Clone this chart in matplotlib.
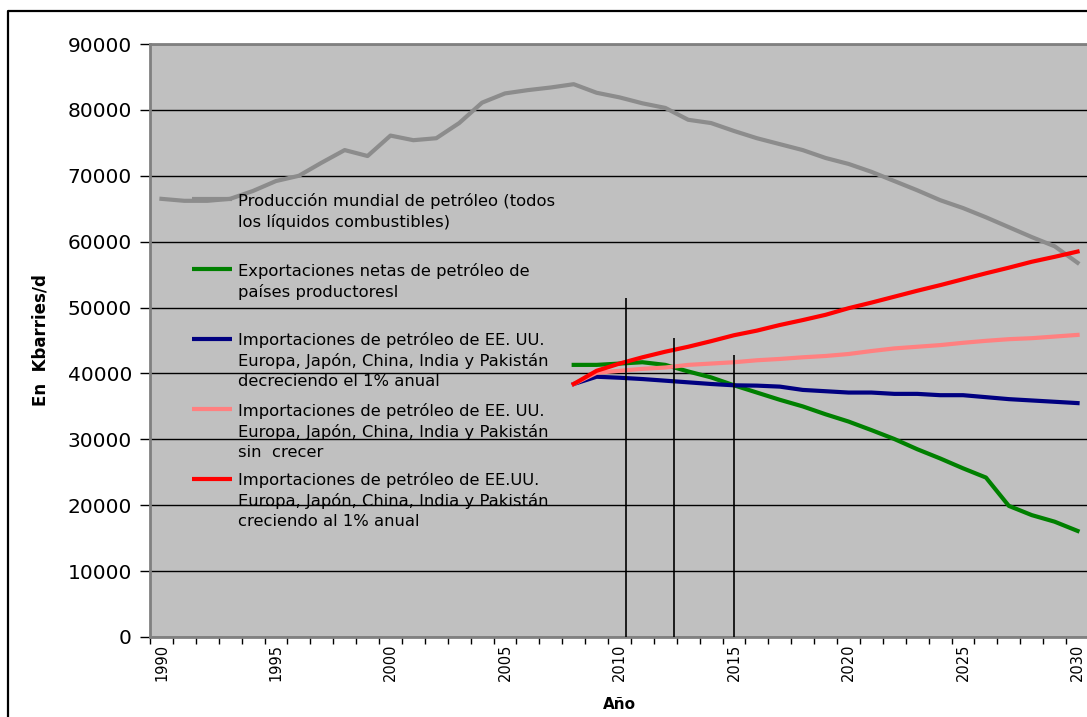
import matplotlib

matplotlib.use("Agg")
import matplotlib.pyplot as plt
import numpy as np
from matplotlib.lines import Line2D

plt.rcParams["font.family"] = ["DejaVu Sans"]

years = list(range(1990, 2031))

# Producción mundial (kbarriles/día), 1990-2030
production = [
    66500, 66200, 66200, 66500, 67700, 69200, 70000, 72000, 73900, 73000,
    76100, 75400, 75700, 78000, 81100, 82500, 83000, 83400, 83900, 82600,
    81900, 81000, 80300, 78500, 78000, 76800, 75700, 74800, 73900, 72700,
    71800, 70600, 69200, 67800, 66300, 65100, 63700, 62200, 60700, 59300,
    56800,
]

# Proyecciones 2008-2030
proj_start = 2008
exports = [
    41300, 41300, 41500, 41700, 41300, 40300, 39400, 38200, 37100, 36000,
    35000, 33800, 32700, 31400, 30050, 28500, 27100, 25600, 24200, 19900,
    18500, 17500, 16100,
]
imports_down = [
    38400, 39500, 39350, 39150, 38900, 38650, 38400, 38200, 38150, 38000,
    37500, 37300, 37100, 37100, 36900, 36900, 36700, 36700, 36400, 36100,
    35900, 35700, 35500,
]
imports_flat = [
    38400, 40100, 40400, 40700, 40900, 41300, 41500, 41700, 42000, 42200,
    42450, 42650, 42950, 43400, 43800, 44050, 44300, 44650, 44950, 45200,
    45350, 45600, 45850,
]
imports_up = [
    38400, 40400, 41500, 42450, 43300, 44050, 44900, 45800, 46500, 47350,
    48100, 48900, 49900, 50750, 51650, 52550, 53400, 54300, 55200, 56050,
    56950, 57700, 58500,
]

# marcas verticales (año, altura)
marker_years = [2010.3, 2012.4, 2015.0]
marker_tops = [51400, 45400, 42800]

labels = [
    "Producción mundial de petróleo (todos\nlos líquidos combustibles)",
    "Exportaciones netas de petróleo de\npaíses productoresl",
    "Importaciones de petróleo de EE. UU.\nEuropa, Japón, China, India y Pakistán\ndecreciendo el 1% anual",
    "Importaciones de petróleo de EE. UU.\nEuropa, Japón, China, India y Pakistán\nsin  crecer",
    "Importaciones de petróleo de EE.UU.\nEuropa, Japón, China, India y Pakistán\ncreciendo al 1% anual",
]
colors = ["#8c8c8c", "#008000", "#000080", "#ff8080", "#ff0000"]

fig = plt.figure(figsize=(10.87, 7.17), dpi=100)
ax = fig.add_axes([150 / 1087, 80 / 717, 939 / 1087, 593 / 717])
ax.set_facecolor("#c0c0c0")

x_all = np.arange(len(years))
x_proj = np.arange(len(exports)) + (proj_start - years[0])

lw = 3.0
ax.plot(x_all, production, color=colors[0], lw=lw, zorder=3)
ax.plot(x_proj, exports, color=colors[1], lw=lw, zorder=3)
ax.plot(x_proj, imports_down, color=colors[2], lw=lw, zorder=3)
ax.plot(x_proj, imports_flat, color=colors[3], lw=lw, zorder=3)
ax.plot(x_proj, imports_up, color=colors[4], lw=lw, zorder=3)

ax.vlines(np.array(marker_years) - years[0], 0, marker_tops, color="black", lw=1.2, zorder=4)

ax.set_xlim(-0.5, len(years) - 0.5)
ax.set_ylim(0, 90000)
ax.set_yticks(np.arange(0, 90001, 10000))
ax.yaxis.grid(True, color="black", lw=1.0)
ax.set_axisbelow(True)

ax.set_xticks(x_all[::5])
ax.set_xticklabels([str(y) for y in years[::5]], rotation=90, fontsize=10.5)
ax.set_xticks(np.arange(len(years) + 1) - 0.5, minor=True)
ax.tick_params(axis="x", which="major", length=0, pad=5)
ax.tick_params(axis="x", which="minor", length=5, width=1, color="black")
ax.tick_params(axis="y", length=7, width=1, color="black", labelsize=14.5, pad=6)

for s in ax.spines.values():
    s.set_color("#808080")
    s.set_linewidth(2)

ax.set_ylabel("En  Kbarries/d", fontsize=12, fontweight="bold", labelpad=13)
ax.set_xlabel("Año", fontsize=11, fontweight="bold", labelpad=11)

# leyenda dentro del área de trazado (posiciones en píxeles de la figura)
handle_y = [199, 269, 339, 409, 479]
first_baseline = [206, 276, 345, 416, 485]
line_step = 20.7
for lab, col, hy, by in zip(labels, colors, handle_y, first_baseline):
    fig.add_artist(Line2D([192 / 1087, 232 / 1087], [1 - hy / 717, 1 - hy / 717],
                          color=col, lw=lw, solid_capstyle="butt", zorder=5))
    for k, line in enumerate(lab.split("\n")):
        fig.text(238 / 1087, 1 - (by + k * line_step) / 717, line, fontsize=11.8,
                 va="baseline", ha="left", zorder=5)

# marco exterior
fig.add_artist(Line2D([8 / 1087, 8 / 1087, 1.0], [0, 1 - 11 / 717, 1 - 11 / 717],
                      color="black", lw=1.6))

fig.savefig("out.png", dpi=100)
